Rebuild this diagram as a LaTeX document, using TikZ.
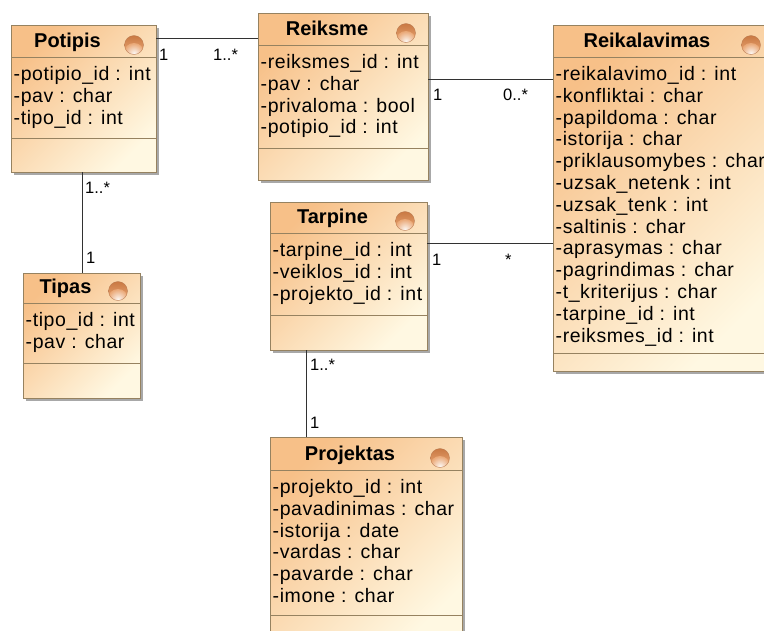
\documentclass[tikz,border=0pt]{standalone}
\usepackage{fontspec}
\setmainfont{Liberation Sans}
\newfontfamily\attrfont[LetterSpace=3]{Liberation Sans}
\usetikzlibrary{shadows}

\definecolor{boxtop}{RGB}{247,192,136}
\definecolor{boxbottom}{RGB}{255,248,226}
\definecolor{boxedge}{RGB}{150,130,96}
\definecolor{boxshadow}{RGB}{168,168,168}
\definecolor{iconbrown}{RGB}{200,120,66}
\definecolor{iconlight}{RGB}{236,170,120}
\definecolor{iconedge}{RGB}{180,120,80}
\definecolor{assocline}{RGB}{50,50,50}

\tikzset{
  classframe/.style={draw=boxedge, line width=1pt, rectangle, inner sep=0pt, outer sep=0pt,
    anchor=north west, top color=boxtop, bottom color=boxbottom, shading angle=45,
    drop shadow={shadow xshift=3pt, shadow yshift=-3pt, fill=boxshadow, opacity=1}},
  classline/.style={draw=boxedge, line width=1pt},
  classtitle/.style={anchor=base, inner sep=0pt, font=\bfseries\fontsize{20}{22}\selectfont, text=black},
  classattr/.style={anchor=base west, inner sep=0pt, font=\attrfont\fontsize{19.5}{22}\selectfont, text=black},
  iconrim/.style={draw=iconedge, line width=0.3pt},
  assoc/.style={draw=assocline, line width=1pt},
  mult/.style={anchor=base west, inner sep=0pt, font=\fontsize{16.5}{18}\selectfont, text=black}
}

% #1 name, #2 left, #3 top, #4 right, #5 bottom, #6 header rule, #7 attribute rule,
% #8 class name, #9 attribute list
\newcommand\classbox[9]{%
  \pgfmathsetmacro\cbw{#4-#2}%
  \pgfmathsetmacro\cbh{#5-#3}%
  \pgfmathsetmacro\cbcx{#4-22}%
  \pgfmathsetmacro\cbcy{#6-12}%
  \pgfmathsetmacro\cbtx{(#2+\cbcx-10)/2}%
  \node[classframe, minimum width=\cbw pt, minimum height=\cbh pt] (#1) at (#2,#3) {};
  \draw[classline] (#1.west |- 0,#6) -- (#1.east |- 0,#6);
  \draw[classline] (#1.west |- 0,#7) -- (#1.east |- 0,#7);
  \node[classtitle] (#1-title) at (\cbtx,#6-9.5) {#8};
  % class icon: orange sphere lit from below
  \begin{scope}
    \clip (\cbcx,\cbcy) circle (9.5);
    \shade[top color=iconbrown, bottom color=iconlight] (\cbcx-10,\cbcy-10) rectangle (\cbcx+10,\cbcy+10);
    \shade[inner color=white, outer color=iconlight, opacity=0.9] (\cbcx,\cbcy+8) circle (10);
  \end{scope}
  \draw[iconrim] (\cbcx,\cbcy) circle (9.5);
  \foreach \t [count=\i] in {#9}
    \node[classattr] (#1-attr\i) at (#2+2.5, #6+23.5+21.8*\i-21.8) {\t};
}

\begin{document}
\begin{tikzpicture}[x=1pt, y=-1pt]
  \useasboundingbox (0,0) rectangle (764,630);
  \clip (0,0) rectangle (764,630);
  \fill[white] (0,0) rectangle (764,630);

  \classbox{potipis}{11}{25}{156}{172}{57}{138}{Potipis}
    {-potipio\_id : int, -pav : char, -tipo\_id : int}
  \classbox{reiksme}{258}{13}{428}{180}{45}{148}{Reiksme}
    {-reiksmes\_id : int, -pav : char, -privaloma : bool, -potipio\_id : int}
  \classbox{reikalavimas}{553}{25}{773}{371}{57}{353}{Reikalavimas}
    {-reikalavimo\_id : int, -konfliktai : char, -papildoma : char, -istorija : char,
     -priklausomybes : char, -uzsak\_netenk : int, -uzsak\_tenk : int, -saltinis : char,
     -aprasymas : char, -pagrindimas : char, -t\_kriterijus : char, -tarpine\_id : int,
     -reiksmes\_id : int}
  \classbox{tipas}{23}{273}{140}{398}{303}{363}{Tipas}
    {-tipo\_id : int, -pav : char}
  \classbox{tarpine}{270}{202}{427}{350}{233}{315}{Tarpine}
    {-tarpine\_id : int, -veiklos\_id : int, -projekto\_id : int}
  \classbox{projektas}{270}{437}{462}{645}{470}{615}{Projektas}
    {-projekto\_id : int, -pavadinimas : char, -istorija : date, -vardas : char,
     -pavarde : char, -imone : char}

  % associations
  \draw[assoc] (potipis.east |- 0,38) -- (reiksme.west |- 0,38);
  \draw[assoc] (reiksme.east |- 0,79) -- (reikalavimas.west |- 0,79);
  \draw[assoc] (tarpine.east |- 0,243) -- (reikalavimas.west |- 0,243);
  \draw[assoc] (potipis.south -| 82,0) -- (tipas.north -| 82,0);
  \draw[assoc] (tarpine.south -| 306,0) -- (projektas.north -| 306,0);

  % multiplicities
  \node[mult] (m-pot-r) at (159,60) {1};
  \node[mult] (m-rei-l) at (213,60) {1..*};
  \node[mult] (m-rei-r) at (433,100) {1};
  \node[mult] (m-reik-a) at (503,100) {0..*};
  \node[mult] (m-tar-r) at (432,265) {1};
  \node[mult] (m-reik-b) at (505,265) {*};
  \node[mult] (m-pot-b) at (85,193) {1..*};
  \node[mult] (m-tip-t) at (86,263) {1};
  \node[mult] (m-tar-b) at (310,370) {1..*};
  \node[mult] (m-pro-t) at (310,428) {1};
\end{tikzpicture}
\end{document}
